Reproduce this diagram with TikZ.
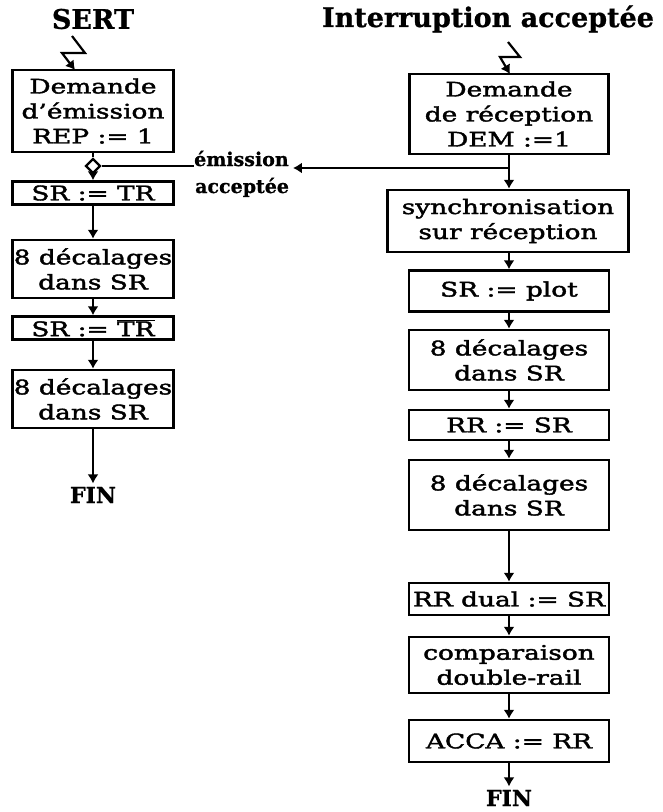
\documentclass[tikz,border=0pt]{standalone}
\usepackage{fontspec}
\setmainfont{DejaVu Serif}[FakeStretch=1.32,FakeBold=2]
\newfontfamily\titrefont{DejaVu Serif}[FakeBold=0.8]
\usetikzlibrary{arrows.meta,shapes.geometric}

\begin{document}
\begin{tikzpicture}[x=1pt,y=-1pt,
        boite/.style={draw,line width=2.4pt,align=center,inner sep=0pt,font=\fontsize{20}{25}\selectfont},
        fl/.style={line width=2.2pt,-{Latex[length=9pt,width=11pt]}},
        trait/.style={line width=2.2pt},
        titre/.style={font=\titrefont\bfseries\fontsize{27}{30}\selectfont},
        etiq/.style={font=\titrefont\bfseries\fontsize{19}{22}\selectfont,inner sep=0pt}]
        \useasboundingbox (0,0) rectangle (662,812);
        % emission (SERT)
        \node[titre] (sert) at (93,19) {SERT};
        \node[boite,minimum width=161pt,minimum height=82pt] (dem) at (93,111) {Demande\\d'émission\\REP := 1};
        \node[draw,trait,diamond,fill=white,inner sep=0pt,minimum size=15pt] (jonc) at (93,166) {};
        \node[boite,minimum width=161pt,minimum height=23pt] (srtr) at (93,193) {SR := TR};
        \node[boite,minimum width=161pt,minimum height=58pt] (dec1) at (93,269) {8 décalages\\dans SR};
        \node[boite,minimum width=161pt,minimum height=23pt] (srtrb) at (93,328) {SR := $\overline{\mbox{TR}}$};
        \node[boite,minimum width=161pt,minimum height=58pt] (dec2) at (93,399) {8 décalages\\dans SR};
        \node[titre,font=\titrefont\bfseries\fontsize{22}{24}\selectfont] (fin1) at (93,495) {FIN};
        \draw[fl] (72,36) -- (85,53) -- (62,53) -- (75,70);
        \draw[trait] (dem) -- (jonc);
        \draw[fl] (jonc) -- (srtr);
        \draw[fl] (srtr) -- (dec1);
        \draw[fl] (dec1) -- (srtrb);
        \draw[fl] (srtrb) -- (dec2);
        \draw[fl] (dec2) -- (fin1);
        % label
        \node[etiq,anchor=base west] (emis) at (194,166) {émission};
        \node[etiq,anchor=base west] (acc) at (195,193) {acceptée};
        \draw[trait] (jonc.east) -- (jonc.east -| emis.west);
        % reception
        \node[titre] (inter) at (488,19) {Interruption acceptée};
        \node[boite,minimum width=199pt,minimum height=80pt] (rdem) at (509,114) {Demande\\de réception\\DEM :=1};
        \coordinate (branche) at (509,168);
        \node[boite,minimum width=241pt,minimum height=62pt] (sync) at (508,221) {synchronisation\\sur réception};
        \node[boite,minimum width=200pt,minimum height=41pt] (plot) at (509,291) {SR := plot};
        \node[boite,minimum width=200pt,minimum height=60pt] (dec3) at (509,360) {8 décalages\\dans SR};
        \node[boite,minimum width=200pt,minimum height=30pt] (rrsr) at (509,425) {RR := SR};
        \node[boite,minimum width=200pt,minimum height=70pt] (dec4) at (509,495) {8 décalages\\dans SR};
        \node[boite,minimum width=200pt,minimum height=32pt] (dual) at (509,599) {RR dual := SR};
        \node[boite,minimum width=200pt,minimum height=56pt] (comp) at (509,665) {comparaison\\double-rail};
        \node[boite,minimum width=200pt,minimum height=42pt] (acca) at (509,741) {ACCA := RR};
        \node[titre,font=\titrefont\bfseries\fontsize{22}{24}\selectfont] (fin2) at (509,798) {FIN};
        \draw[fl] (508,42) -- (520,57) -- (500,57) -- (510,74);
        \draw[trait] (rdem) -- (branche);
        \draw[fl] (branche) -- (branche |- sync.north);
        \draw[fl] (branche) -- ([xshift=4pt]branche -| emis.east);
        \draw[fl] (sync.south -| plot) -- (plot);
        \draw[fl] (plot) -- (dec3);
        \draw[fl] (dec3) -- (rrsr);
        \draw[fl] (rrsr) -- (dec4);
        \draw[fl] (dec4) -- (dual);
        \draw[fl] (dual) -- (comp);
        \draw[fl] (comp) -- (acca);
        \draw[fl] (acca) -- (fin2);
    \end{tikzpicture}
\end{document}
